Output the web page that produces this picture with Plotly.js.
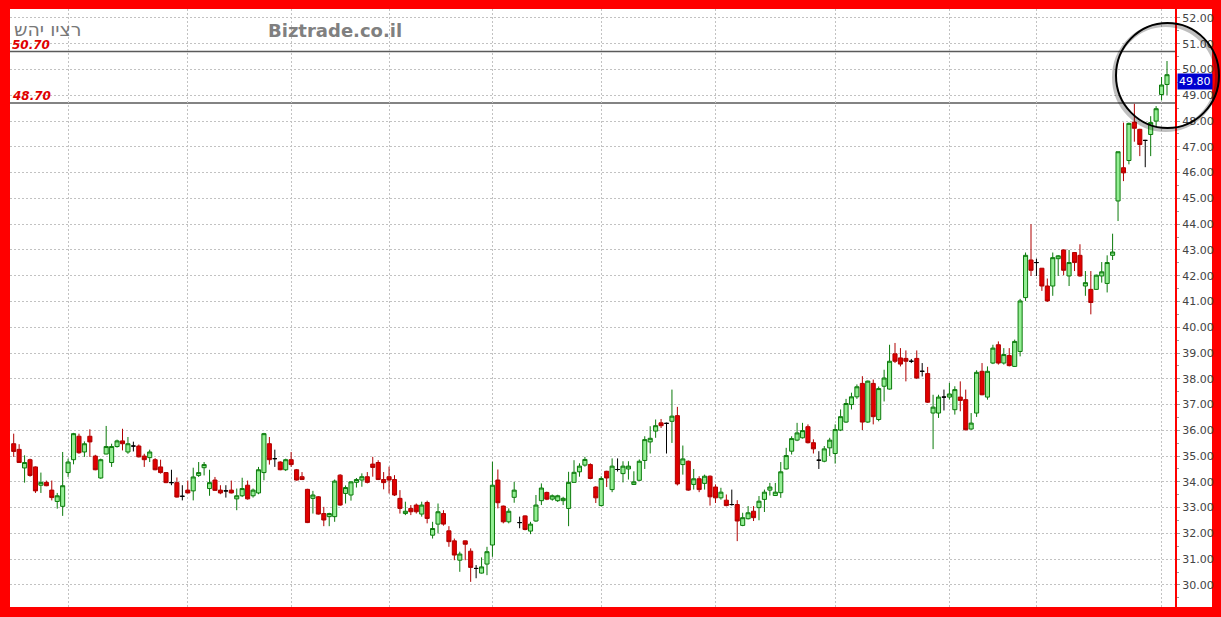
<!DOCTYPE html>
<html><head><meta charset="utf-8">
<script src="https://cdn.plot.ly/plotly-3.0.1.min.js"></script>
<style>html,body{margin:0;padding:0;background:#ff0000;} #chart{width:1221px;height:617px;}</style>
</head><body><div id="chart"></div>
<script>
// ---- data (one candle per trading day) ----
const opens = [
35.48,35.26,34.54,34.86,34.58,33.87,33.98,33.68,33.24,33.05,
34.36,34.86,35.77,35.16,35.77,35.00,34.15,35.08,34.75,35.37,
35.59,35.16,35.39,35.39,35.00,34.94,34.86,34.58,34.36,33.97,
33.97,33.44,33.68,33.65,34.25,34.55,33.74,34.07,33.68,33.65,
33.68,33.34,33.46,33.87,33.46,33.57,34.36,35.48,34.90,34.77,
34.47,34.86,34.47,34.20,33.71,33.36,33.42,32.77,32.65,32.65,
34.26,33.55,33.49,33.98,34.07,34.20,34.69,34.75,34.09,34.20,
34.09,33.36,32.77,32.97,33.10,32.75,33.20,31.93,32.36,32.77,
32.10,31.71,30.96,31.71,31.31,30.64,30.46,30.81,31.55,34.07,
33.06,32.45,33.40,32.42,32.68,32.09,32.48,33.27,33.59,33.33,
33.27,33.27,32.97,33.98,34.39,34.65,34.67,33.80,33.08,34.41,
33.70,34.48,34.32,34.50,33.90,34.06,34.83,35.55,35.97,36.29,
36.27,36.35,36.57,34.67,34.80,33.90,34.12,33.94,34.22,33.80,
33.38,33.29,33.12,33.12,32.31,32.57,32.86,33.00,33.32,33.68,
33.47,33.58,34.50,35.19,35.62,35.71,36.14,35.52,34.84,34.80,
35.32,35.10,36.01,36.32,37.00,37.30,37.82,36.32,37.82,36.42,
37.71,37.60,38.97,38.81,38.79,38.68,38.79,38.29,38.20,36.67,
36.67,37.29,37.29,36.80,37.29,37.19,36.05,36.67,38.29,37.29,
38.61,39.32,38.61,38.90,38.48,39.06,41.15,42.61,42.51,42.29,
41.60,41.60,42.66,43.00,41.99,42.90,42.79,41.60,41.47,41.47,
41.99,41.70,42.79,44.90,46.19,46.47,47.96,47.68,47.25,47.48,
48.00,49.03,49.42];
const highs = [
35.87,35.46,35.03,34.90,34.60,34.36,34.05,34.05,33.57,35.16,
34.90,35.90,35.87,35.57,36.04,35.05,34.90,36.17,35.48,35.64,
36.06,35.74,35.56,35.45,35.09,35.25,34.92,34.86,34.38,34.47,
34.17,33.87,34.05,34.55,34.77,34.77,34.47,34.19,33.87,33.87,
34.05,33.74,34.16,34.05,33.74,34.58,35.90,35.74,35.25,34.80,
34.90,35.16,34.50,34.38,33.73,33.65,33.45,33.03,32.80,34.09,
34.30,33.86,34.02,34.15,34.33,34.38,34.97,34.84,34.38,34.59,
34.26,33.68,33.23,33.10,33.16,33.23,33.27,32.45,33.16,32.90,
32.28,31.80,31.29,31.72,31.42,30.77,31.07,31.48,34.78,34.48,
33.08,32.97,34.00,32.65,32.70,32.45,33.49,33.94,33.62,33.51,
33.50,33.42,34.39,34.84,34.72,34.97,34.72,33.83,34.22,34.43,
34.91,34.91,34.80,34.80,34.41,34.87,35.77,36.16,36.42,36.44,
36.30,37.58,36.91,35.41,34.83,34.50,34.22,34.28,34.25,33.90,
33.77,33.51,33.70,33.29,32.80,33.06,33.06,33.45,33.70,33.96,
33.96,34.77,35.32,35.77,36.29,36.29,36.23,35.65,35.19,35.39,
35.71,36.23,36.81,37.22,37.46,37.78,38.10,37.93,37.97,37.70,
38.35,39.32,39.39,39.19,39.10,38.77,39.10,38.61,38.46,37.38,
37.38,37.58,37.84,37.71,37.90,37.58,36.67,38.33,38.61,38.48,
39.32,39.45,39.19,39.19,39.52,41.10,42.90,44.00,42.66,42.30,
41.89,42.90,42.80,43.02,43.00,42.92,43.22,42.18,42.18,42.04,
42.53,42.79,43.63,46.81,47.94,47.94,48.67,47.70,47.27,48.19,
48.58,49.71,50.33];
const lows = [
34.97,34.74,33.97,34.20,33.57,33.57,33.83,33.28,32.96,32.68,
34.19,34.68,35.09,34.97,34.97,34.45,34.12,35.07,34.58,35.33,
35.22,35.09,35.18,34.95,34.58,34.77,34.45,34.32,33.95,33.87,
33.39,33.28,33.55,33.28,34.19,34.25,33.46,33.65,33.52,33.39,
33.55,32.90,33.41,33.31,33.39,33.52,34.06,34.67,34.58,34.45,
34.42,34.58,34.05,34.07,32.40,32.77,32.73,32.28,32.28,32.45,
33.07,33.16,33.27,33.78,33.81,33.94,34.20,34.07,33.71,33.55,
33.45,32.77,32.71,32.71,32.77,32.65,32.39,31.80,32.00,32.30,
31.48,30.96,30.51,30.96,30.12,30.26,30.44,30.38,31.09,32.97,
32.39,32.39,33.19,32.20,32.12,31.97,32.45,33.10,33.29,33.27,
33.22,33.10,32.28,33.97,34.20,34.59,34.10,33.18,33.05,33.80,
33.60,34.40,33.98,34.09,33.88,34.05,34.50,35.10,35.71,36.09,
35.10,35.51,33.86,34.28,33.65,33.70,33.60,33.70,33.08,33.18,
33.31,33.05,33.08,31.70,32.28,32.54,32.48,32.51,32.83,33.47,
33.45,33.38,34.48,35.06,35.58,35.68,35.49,35.10,34.50,34.76,
35.00,34.71,35.97,36.29,36.81,37.22,36.01,36.29,36.23,36.35,
37.12,37.58,38.61,38.48,37.90,38.61,37.99,38.09,37.06,35.27,
36.48,36.77,37.19,36.61,36.74,36.00,36.02,36.52,37.36,37.19,
38.57,38.55,38.55,38.48,38.46,38.87,41.02,41.99,41.99,41.41,
40.98,41.22,41.99,42.02,41.60,42.18,41.96,41.22,40.50,41.45,
41.73,41.35,42.61,44.12,45.67,46.32,47.20,46.64,46.21,46.64,
47.81,48.80,49.01];
const closes = [
35.18,34.75,34.75,34.25,33.65,33.98,33.85,33.39,33.46,33.85,
34.77,35.87,35.13,35.48,35.55,34.47,34.86,35.37,35.37,35.59,
35.48,35.48,35.39,34.97,34.86,35.16,34.47,34.36,33.97,33.97,
33.41,33.44,33.57,34.19,34.36,34.67,33.97,33.67,33.57,33.65,
33.57,33.46,33.74,33.34,33.68,34.47,35.87,34.86,34.90,34.47,
34.86,34.67,34.07,34.09,32.42,33.49,32.75,32.52,32.77,34.03,
33.10,33.78,34.00,34.09,34.20,33.98,34.56,34.09,33.97,34.07,
33.49,32.97,32.86,32.84,32.84,33.10,32.58,32.19,32.84,32.36,
31.68,31.16,31.20,31.58,30.68,30.64,30.70,31.29,33.87,33.19,
32.45,32.86,33.68,32.42,32.15,32.36,33.10,33.76,33.33,33.46,
33.46,33.36,33.98,34.37,34.61,34.87,34.13,33.38,34.13,34.15,
34.61,34.48,34.61,34.61,34.00,34.80,35.64,35.69,36.18,36.18,
36.27,36.55,33.92,34.89,33.68,34.12,33.70,34.22,33.42,33.38,
33.60,33.08,33.12,32.48,32.61,32.80,32.61,33.25,33.60,33.80,
33.60,34.39,35.02,35.68,35.90,35.99,35.52,35.28,34.84,35.28,
35.62,36.03,36.53,37.04,37.30,37.69,36.32,37.91,36.53,37.62,
38.03,38.68,38.68,38.57,38.68,38.68,38.03,38.29,37.09,36.90,
37.29,37.29,37.41,37.58,37.16,36.02,36.28,38.25,37.38,38.29,
39.19,38.61,38.94,38.51,39.45,41.02,42.79,42.21,42.51,41.60,
41.02,42.70,42.77,42.21,42.51,42.51,41.99,41.73,40.96,42.02,
42.15,42.51,42.92,46.81,45.99,47.91,47.72,47.09,47.25,47.94,
48.48,49.40,49.80];
const monthStarts = [10, 32, 51, 69, 88, 108, 129, 151, 172, 188, 211];
const levels = [50.70, 48.70];
const chartTitle = 'רציו יהש';
const brandText = 'Biztrade.co.il';

// ---- build traces ----
const idx = opens.map((_, i) => i);
const isDoji = opens.map((o, i) => o === closes[i]);
const pick = (arr, want) => arr.map((v, i) => (isDoji[i] === want ? v : null));

const main = {
  type: 'candlestick', x: idx,
  open: pick(opens, false), high: pick(highs, false), low: pick(lows, false), close: pick(closes, false),
  increasing: {line: {color: '#0b7a0b', width: 1}, fillcolor: '#94ee94'},
  decreasing: {line: {color: '#b00000', width: 1}, fillcolor: '#e00000'},
  whiskerwidth: 0, hoverinfo: 'skip', showlegend: false
};
const doji = {
  type: 'candlestick', x: idx,
  open: pick(opens, true), high: pick(highs, true), low: pick(lows, true), close: pick(closes, true),
  increasing: {line: {color: '#000000', width: 1}, fillcolor: '#000000'},
  decreasing: {line: {color: '#000000', width: 1}, fillcolor: '#000000'},
  whiskerwidth: 0, hoverinfo: 'skip', showlegend: false
};

// ---- geometry helpers (pixel -> paper) ----
const W = 1221, H = 617, L = 10, R = 46, T = 9, B = 10;
const pw = W - L - R, ph = H - T - B;
const px = x => (x - L) / pw;
const py = y => (H - B - y) / ph;

const grid = {gridcolor: '#c2c2c2', griddash: '2px,2px', gridwidth: 1};

const shapes = [
  {type: 'rect', xref: 'paper', yref: 'paper', x0: 1, x1: px(1212), y0: 0, y1: 1,
   fillcolor: '#ffffff', line: {width: 0}, layer: 'below'}
];
levels.forEach(v => shapes.push({type: 'line', xref: 'paper', yref: 'y', x0: 0, x1: 1, y0: v, y1: v,
  line: {color: '#5a5a5a', width: 1.5}, layer: 'between'}));
shapes.push({type: 'circle', xref: 'paper', yref: 'paper', x0: px(1114), x1: px(1217), y0: py(130), y1: py(25),
  line: {color: 'rgba(0,0,0,0.25)', width: 4}, layer: 'above'});
shapes.push({type: 'circle', xref: 'paper', yref: 'paper', x0: px(1116), x1: px(1219), y0: py(128), y1: py(23),
  line: {color: '#000000', width: 2}, layer: 'above'});

const annotations = [
  {xref: 'paper', yref: 'paper', x: px(12), y: py(29), xanchor: 'left', yanchor: 'middle',
   text: chartTitle, showarrow: false, font: {family: 'DejaVu Sans', size: 19, color: '#787878'}},
  {xref: 'paper', yref: 'paper', x: px(266), y: py(31), xanchor: 'left', yanchor: 'middle',
   text: brandText, showarrow: false, font: {family: 'DejaVu Sans', size: 18, color: '#808080', weight: 'bold'}}
];
levels.forEach(v => annotations.push({xref: 'paper', yref: 'y', x: px(11), y: v, xanchor: 'left', yanchor: 'bottom',
  yshift: -1, borderpad: 0, text: v.toFixed(2), showarrow: false,
  font: {family: 'DejaVu Sans', size: 12, color: '#e00000', weight: 'bold', style: 'italic'}}));
annotations.push({xref: 'paper', yref: 'paper', x: px(1177), y: py(81), xanchor: 'left', yanchor: 'middle',
  text: closes[closes.length - 1].toFixed(2), showarrow: false, bgcolor: '#0000d0', borderpad: 1,
  font: {family: 'DejaVu Sans', size: 11, color: '#ffffff'}});

const layout = {
  width: W, height: H,
  margin: {l: L, r: R, t: T, b: B, pad: 0},
  paper_bgcolor: '#ff0000', plot_bgcolor: '#ffffff',
  showlegend: false, boxgap: 0.25, boxgroupgap: 0,
  xaxis: Object.assign({range: [-0.68, 213.47], rangeslider: {visible: false}, showticklabels: false,
    tickmode: 'array', tickvals: monthStarts, ticks: '', showgrid: true, zeroline: false, showline: false,
    fixedrange: true}, grid),
  yaxis: Object.assign({side: 'right', range: [29.144, 52.349], tick0: 30, dtick: 1, tickformat: '.2f',
    showgrid: true, ticks: 'outside', ticklen: 3, tickcolor: '#999999',
    tickfont: {family: 'DejaVu Sans', size: 11, color: '#444444'},
    showline: true, linecolor: '#ff0000', linewidth: 2, zeroline: false, fixedrange: true,
    minor: {dtick: 0.5, ticks: 'outside', ticklen: 2, tickcolor: '#999999', showgrid: false}}, grid),
  shapes: shapes,
  annotations: annotations
};

Plotly.newPlot('chart', [main, doji], layout, {staticPlot: true, displayModeBar: false});
</script>
</body></html>
